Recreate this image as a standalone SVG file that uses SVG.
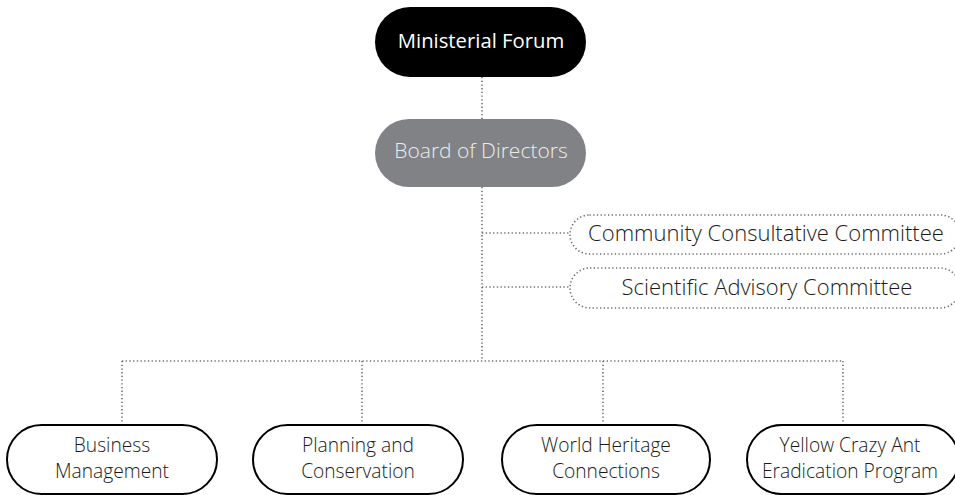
<svg xmlns="http://www.w3.org/2000/svg" width="955" height="495" viewBox="0 0 955 495">
<style>
.t{font-family:"Open Sans","Noto Sans","Liberation Sans",sans-serif;font-weight:300;font-size:19.2px;fill:#1a1a1a;text-anchor:middle}
.cm{font-size:22px}
.w{fill:#ffffff;font-weight:500;font-size:20.3px}
.g{fill:#ececec;font-size:21px}
.box{fill:#ffffff;stroke:#000000;stroke-width:2}
.dbox{fill:#ffffff;stroke:#6d6e71;stroke-width:1.6;stroke-dasharray:1.3 2.4}
.c{fill:none;stroke:#6d6e71;stroke-width:1.6;stroke-dasharray:1.3 2.4}
</style>
<rect width="955" height="495" fill="#ffffff"/>
<g id="connectors">
<line class="c" x1="482" y1="77" x2="482" y2="119"/>
<line class="c" x1="482" y1="187" x2="482" y2="361"/>
<line class="c" x1="482" y1="233" x2="570" y2="233"/>
<line class="c" x1="482" y1="287" x2="570" y2="287"/>
<line class="c" x1="122" y1="361" x2="843" y2="361"/>
<line class="c" x1="122" y1="361" x2="122" y2="424"/>
<line class="c" x1="362" y1="361" x2="362" y2="424"/>
<line class="c" x1="603" y1="361" x2="603" y2="424"/>
<line class="c" x1="843" y1="361" x2="843" y2="424"/>
</g>
<g id="ministerial-forum">
<rect x="375" y="7" width="211" height="70" rx="35" fill="#000000"/>
<text class="t w" x="481" y="48">Ministerial Forum</text>
</g>
<g id="board-of-directors">
<rect x="375" y="119" width="211" height="68" rx="34" fill="#808285"/>
<text class="t g" x="481" y="158">Board of Directors</text>
</g>
<g id="community-consultative-committee">
<rect class="dbox" x="570" y="215" width="390" height="39" rx="19.5"/>
<text class="t cm" x="766" y="241">Community Consultative Committee</text>
</g>
<g id="scientific-advisory-committee">
<rect class="dbox" x="570" y="268" width="390" height="40" rx="20"/>
<text class="t cm" x="767" y="295">Scientific Advisory Committee</text>
</g>
<g id="business-management">
<rect class="box" x="7" y="425" width="210" height="69" rx="34.5"/>
<text class="t" x="112" y="452">Business</text>
<text class="t" x="112" y="478">Management</text>
</g>
<g id="planning-and-conservation">
<rect class="box" x="253" y="425" width="210" height="69" rx="34.5"/>
<text class="t" x="358" y="452">Planning and</text>
<text class="t" x="358" y="478">Conservation</text>
</g>
<g id="world-heritage-connections">
<rect class="box" x="502" y="425" width="208" height="69" rx="34.5"/>
<text class="t" x="606" y="452">World Heritage</text>
<text class="t" x="606" y="478">Connections</text>
</g>
<g id="yellow-crazy-ant">
<rect class="box" x="747" y="425" width="212" height="69" rx="34.5"/>
<text class="t" x="850" y="452">Yellow Crazy Ant</text>
<text class="t" x="850" y="478">Eradication Program</text>
</g>
</svg>
